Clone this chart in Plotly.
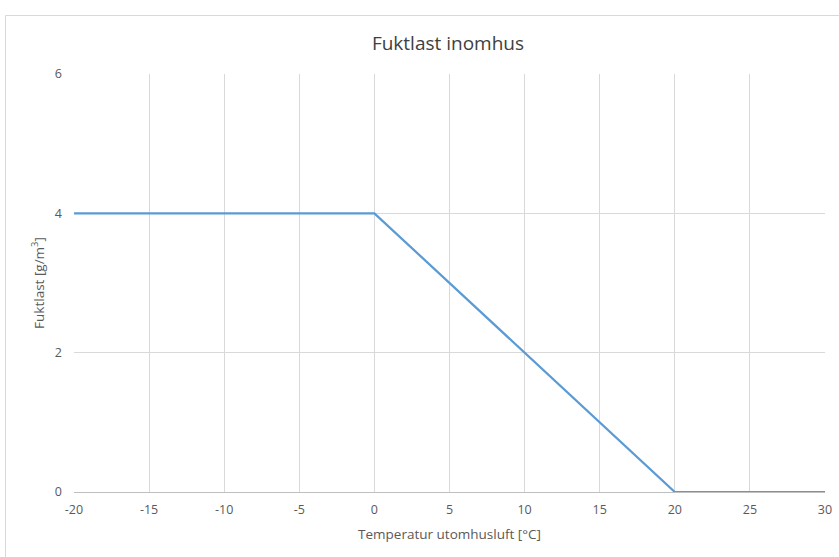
import plotly.graph_objects as go

temperature = [-20, 0, 20, 30]
fuktlast = [4, 4, 0, 0]
x_ticks = [-20, -15, -10, -5, 0, 5, 10, 15, 20, 25, 30]
y_ticks = [0, 2, 4, 6]

font_family = "Open Sans, Liberation Sans, sans-serif"
tick_color = "#595959"

fig = go.Figure()
fig.add_trace(go.Scatter(
    x=temperature, y=fuktlast, mode="lines",
    line=dict(color="#5B9BD5", width=2.25),
    showlegend=False, hoverinfo="skip",
))

L, R, T, B = 74, 14, 74, 65
W, H = 839, 557
pw, ph = W - L - R, H - T - B

fig.update_layout(
    template="none",
    width=W, height=H,
    margin=dict(l=L, r=R, t=T, b=B, pad=0),
    paper_bgcolor="white", plot_bgcolor="white",
    font=dict(family=font_family, color=tick_color, size=12),
    title=dict(text="Fuktlast inomhus", x=448 / W, xanchor="center",
               xref="container",
               y=1 - 43 / H, yanchor="middle",
               font=dict(size=19, color="#404040", family=font_family)),
    xaxis=dict(
        range=[-20, 30], tickvals=x_ticks, ticktext=[str(v) for v in x_ticks],
        showgrid=True, gridcolor="#D9D9D9", gridwidth=1,
        showline=True, linecolor="#BFBFBF", linewidth=1,
        zeroline=False, ticks="", ticklen=0, ticklabelstandoff=6,
        tickfont=dict(size=12.5, color=tick_color),
        title=dict(text="Temperatur utomhusluft [°C]", standoff=12,
                   font=dict(size=13.5, color=tick_color)),
    ),
    yaxis=dict(
        range=[0, 6], tickvals=y_ticks, ticktext=[str(v) for v in y_ticks],
        showgrid=True, gridcolor="#D9D9D9", gridwidth=1,
        showline=False, zeroline=False, ticks="", ticklabelstandoff=11,
        tickfont=dict(size=12.5, color=tick_color),
        title=dict(text="Fuktlast [g/m<sup>3</sup>]", standoff=7,
                   font=dict(size=13.5, color=tick_color)),
    ),
    shapes=[dict(
        type="rect", xref="paper", yref="paper",
        x0=(5.5 - L) / pw, x1=(850 - L) / pw,
        y0=(H - B - 570) / ph, y1=(H - B - 15.5) / ph,
        line=dict(color="#D9D9D9", width=1), fillcolor="rgba(0,0,0,0)",
        layer="below",
    )],
)

fig.write_html(
    "out.html",
    config={"displayModeBar": False},
    post_script="document.body.style.margin='0';document.body.style.overflow='hidden';",
)
